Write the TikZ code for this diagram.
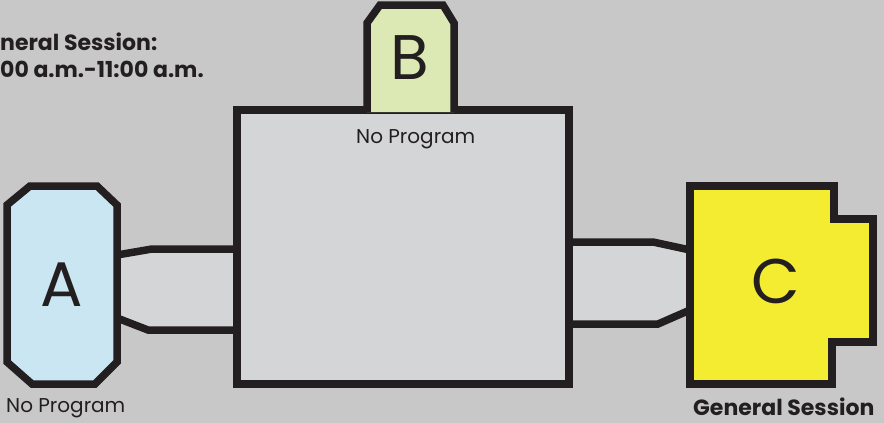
\documentclass[tikz,border=0pt]{standalone}
\usepackage{fontspec}
\setmainfont{Poppins}
\usetikzlibrary{positioning}
\definecolor{bgcol}{HTML}{C8C8C8}
\definecolor{hallcol}{HTML}{D4D5D7}
\definecolor{inkcol}{HTML}{231F20}
\definecolor{roomA}{HTML}{C9E6F2}
\definecolor{roomB}{HTML}{DDE9B4}
\definecolor{roomC}{HTML}{F3EC31}

\begin{document}
\begin{tikzpicture}[x=1pt,y=-1pt,
	wall/.style={draw=inkcol,line width=7.5pt,line join=miter},
	letter/.style={font=\fontsize{63}{63}\selectfont,text=inkcol,inner sep=0pt},
	caption/.style={font=\fontsize{20}{24}\selectfont,text=inkcol,anchor=base west,inner sep=0pt},
	boldcaption/.style={font=\fontsize{22}{26}\selectfont\bfseries,text=inkcol,anchor=base west,inner sep=0pt}]
		\fill[bgcol] (0,0) rectangle (884,423);
		\useasboundingbox (0,0) rectangle (884,423);
		\clip (0,0) rectangle (884,423);
		% corridors
		\fill[hallcol] (117,255) -- (152,249) -- (237,249) -- (237,330) -- (148,330) -- (117,318) -- cycle;
		\fill[hallcol] (569,242) -- (653,242) -- (690,250) -- (690,310) -- (658,324) -- (569,324) -- cycle;
		\draw[wall] (117,255) -- (152,249) -- (237,249);
		\draw[wall] (117,318) -- (148,330) -- (237,330);
		\draw[wall] (569,242) -- (653,242) -- (690,250);
		\draw[wall] (569,324) -- (658,324) -- (690,310);
		% rooms
		\draw[wall,fill=hallcol] (237,110) rectangle (569,384);
		\draw[wall,fill=roomA] (7,205) -- (30,186) -- (97,186) -- (117,205) -- (117,362) -- (95,384) -- (32,384) -- (7,362) -- cycle;
		\draw[wall,fill=roomB] (367,112) -- (367,23) -- (380,5) -- (443,5) -- (454,23) -- (454,112);
		\draw[wall,fill=roomC] (690,186) -- (834,186) -- (834,219) -- (873,219) -- (873,342) -- (832,342) -- (832,384) -- (690,384) -- cycle;
		% labels
		\node[letter] (A) at (62,285) {A};
		\node[letter] (B) at (410,58) {B};
		\node[letter] (C) at (776,281) {C};
		\node[caption] (noA) at (6,412) {No Program};
		\node[caption] (noB) at (356,143) {No Program};
		\node[boldcaption] (genC) at (693,415) {General Session};
		\node[boldcaption] (time1) at (0,50) {neral Session:};
		\node[boldcaption] (time2) at (0,77) {00 a.m.-11:00 a.m.};
	\end{tikzpicture}
\end{document}
